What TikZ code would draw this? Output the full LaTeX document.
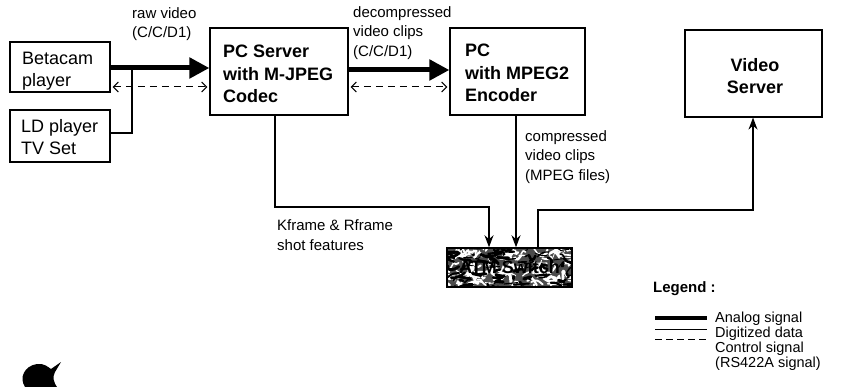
\documentclass[tikz,border=0pt]{standalone}
\usepackage{fontspec}
\setmainfont{Liberation Sans}
\usetikzlibrary{arrows.meta}
\begin{document}
\begin{tikzpicture}[x=1pt,y=-1pt,
  box/.style={draw, line width=1.2pt, inner sep=0pt},
  boxtxt/.style={font=\fontsize{18}{22.5}\selectfont, align=left, anchor=base west, inner sep=0pt},
  lbl/.style={font=\fontsize{15}{19.5}\selectfont, align=left, anchor=west, inner sep=0pt},
  analog/.style={line width=5pt, -{Triangle[length=20pt,width=20pt]}},
  digital/.style={line width=1.2pt},
  digarrow/.style={line width=1.2pt, -{Stealth[length=12pt,width=9pt]}},
  control/.style={line width=1pt, dash pattern=on 7pt off 5pt,
    {Straight Barb[length=5pt,width=10pt]}-{Straight Barb[length=5pt,width=10pt]}},
]
\useasboundingbox (0,0) rectangle (842,387);

% equipment boxes
\node[box, minimum width=100pt, minimum height=50pt] (beta) at (60,67) {};
\node[box, minimum width=100pt, minimum height=52pt] (ld) at (60,136) {};
\node[box, minimum width=138pt, minimum height=87pt] (pcs) at (279,71.5) {};
\node[box, minimum width=135pt, minimum height=87pt] (mpeg) at (517.5,71.5) {};
\node[box, minimum width=137pt, minimum height=87pt] (vs) at (753.5,73.5) {};

% box captions (anchored at the baseline of the last line)
\node[boxtxt] (betat) at (22,87) {Betacam\\player};
\node[boxtxt] (ldt) at (21,155) {LD player\\TV Set};
\node[boxtxt, font=\fontsize{18}{22.5}\selectfont\bfseries] (pcst) at (223,103) {PC Server\\with M-JPEG\\Codec};
\node[boxtxt, font=\fontsize{18}{22.5}\selectfont\bfseries] (mpegt) at (465,102) {PC\\with MPEG2\\Encoder};
\node[boxtxt, align=center, anchor=base, font=\fontsize{18}{22.5}\selectfont\bfseries] (vst) at (755,94) {Video\\Server};

% textured switch box
\coordinate (atmnw) at (447,248);
\coordinate (atmse) at (572,287);
\begin{scope}
  \clip (atmnw) rectangle (atmse);
  \fill[black!70] (atmnw) rectangle (atmse);
  \pgfmathsetseed{11}
  \foreach \i in {1,...,170}{
    \pgfmathsetmacro\px{440+135*rnd}
    \pgfmathsetmacro\py{244+46*rnd}
    \pgfmathsetmacro\dx{-14+28*rnd}
    \pgfmathsetmacro\dy{-5+10*rnd}
    \pgfmathsetmacro\lw{0.8+2.2*rnd}
    \draw[white, line width=\lw pt, line cap=round] (\px,\py) .. controls +(\dx/2,-\dy) .. ++(\dx,\dy);
  }
  \foreach \i in {1,...,120}{
    \pgfmathsetmacro\px{440+135*rnd}
    \pgfmathsetmacro\py{244+46*rnd}
    \pgfmathsetmacro\dx{-14+28*rnd}
    \pgfmathsetmacro\dy{-5+10*rnd}
    \pgfmathsetmacro\lw{0.8+2.4*rnd}
    \draw[black, line width=\lw pt, line cap=round] (\px,\py) .. controls +(\dx/2,\dy) .. ++(\dx,\dy);
  }
\end{scope}
\node[draw, line width=1.5pt, minimum width=125pt, minimum height=39pt, inner sep=0pt,
  font=\fontsize{18}{22}\selectfont\bfseries] (atm) at (509.5,267.5) {ATM Switch};

% analog video paths
\coordinate (ldj) at (132,68);
\draw[digital] (ld.east |- 0,133) -| (ldj);
\draw[analog] (beta.east |- ldj) -- (pcs.west |- ldj);
\coordinate (a2) at (0,70);
\draw[analog] (pcs.east |- a2) -- (mpeg.west |- a2);

% control links
\coordinate (c1) at (0,87);
\draw[control] ([xshift=2pt]beta.east |- c1) -- ([xshift=-2pt]pcs.west |- c1);
\draw[control] ([xshift=2pt]pcs.east |- c1) -- ([xshift=-2pt]mpeg.west |- c1);

% digitized data paths
\coordinate (k1) at (275,207);
\coordinate (k2) at (489,207);
\draw[digarrow] (pcs.south -| k1) -- (k1) -- (k2) -- (atm.north -| k2);
\coordinate (m1) at (516,0);
\draw[digarrow] (mpeg.south -| m1) -- (atm.north -| m1);
\coordinate (v1) at (538,210);
\coordinate (v2) at (753,210);
\draw[digarrow] (atm.north -| v1) -- (v1) -- (v2) -- (vs.south -| v2);

% labels
\node[lbl] (lraw) at (132,24) {raw video\\(C/C/D1)};
\node[lbl] (ldec) at (353,33) {decompressed\\video clips\\(C/C/D1)};
\node[lbl] (lcomp) at (525,157) {compressed\\video clips\\(MPEG files)};
\node[lbl] (lkf) at (277,235) {Kframe \& Rframe\\shot features};

% legend
\node[lbl, font=\fontsize{15}{19}\selectfont\bfseries] (lgd) at (653,289) {Legend :};
\coordinate (g1a) at (655,318); \coordinate (g1b) at (707,318);
\coordinate (g2a) at (655,329); \coordinate (g2b) at (707,329);
\coordinate (g3a) at (655,339); \coordinate (g3b) at (707,339);
\draw[line width=4pt] (g1a) -- (g1b);
\draw[line width=1pt] (g2a) -- (g2b);
\draw[line width=1pt, dash pattern=on 7pt off 4pt] (g3a) -- (g3b);
\node[lbl, font=\fontsize{14.5}{15}\selectfont] (ltx) at (715,341.5) {Analog signal\\Digitized data\\Control signal\\(RS422A signal)};

% ink blot
\fill (25,387) .. controls (19,378) and (24,366) .. (37,364)
  .. controls (44,363) and (48,367) .. (51,369) -- (61,362) -- (55,372)
  .. controls (52,377) and (54,383) .. (57,387) -- cycle;
\end{tikzpicture}
\end{document}
